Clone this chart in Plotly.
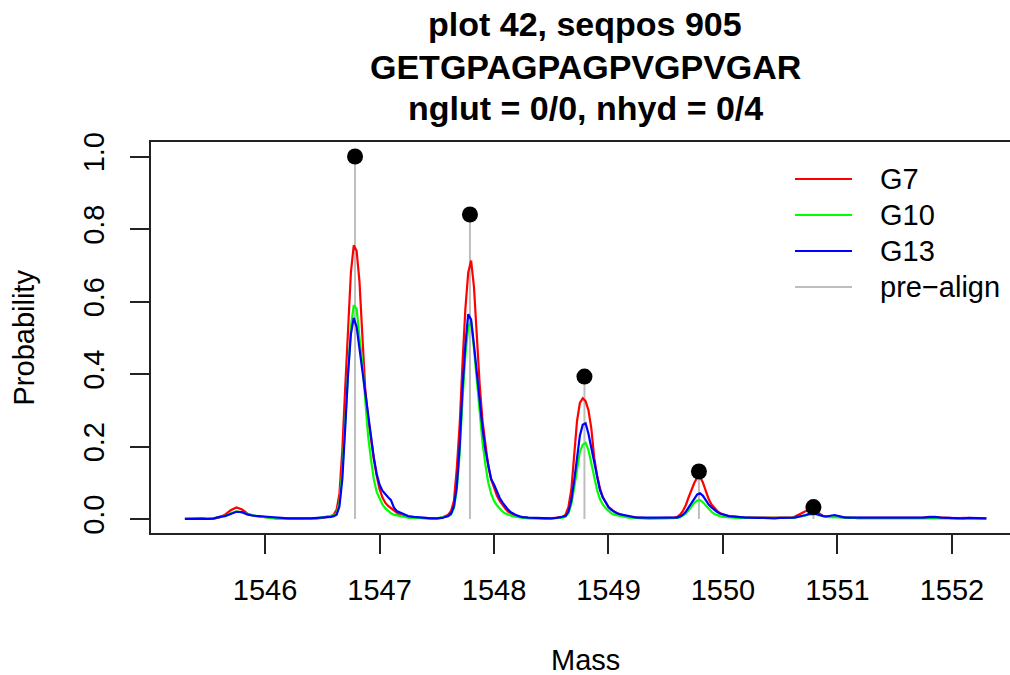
import plotly.graph_objects as go

# ---------------- data ----------------
MASS = [
    1545.30, 1545.35, 1545.40, 1545.45, 1545.50, 1545.55, 1545.60, 1545.65, 1545.70, 1545.75,
    1545.80, 1545.85, 1545.90, 1545.95, 1546.00, 1546.05, 1546.10, 1546.15, 1546.20, 1546.25,
    1546.30, 1546.35, 1546.40, 1546.45, 1546.50, 1546.55,
    1546.575, 1546.600, 1546.625, 1546.650, 1546.675, 1546.700, 1546.725, 1546.750, 1546.775, 1546.800,
    1546.825, 1546.850, 1546.875, 1546.900, 1546.925, 1546.950, 1546.975, 1547.000, 1547.025, 1547.050,
    1547.075, 1547.100, 1547.125, 1547.150, 1547.175, 1547.200, 1547.225, 1547.250,
    1547.30, 1547.35, 1547.40, 1547.45, 1547.50, 1547.55,
    1547.575, 1547.600, 1547.625, 1547.650, 1547.675, 1547.700, 1547.725, 1547.750, 1547.775, 1547.800,
    1547.825, 1547.850, 1547.875, 1547.900, 1547.925, 1547.950, 1547.975, 1548.000, 1548.025, 1548.050,
    1548.075, 1548.100, 1548.125, 1548.150, 1548.175, 1548.200, 1548.225, 1548.250,
    1548.30, 1548.35, 1548.40, 1548.45, 1548.50, 1548.55,
    1548.575, 1548.600, 1548.625, 1548.650, 1548.675, 1548.700, 1548.725, 1548.750, 1548.775, 1548.800,
    1548.825, 1548.850, 1548.875, 1548.900, 1548.925, 1548.950, 1548.975, 1549.000, 1549.025, 1549.050,
    1549.075, 1549.100, 1549.125, 1549.150, 1549.175, 1549.200, 1549.225, 1549.250,
    1549.30, 1549.35, 1549.40, 1549.45, 1549.50, 1549.55,
    1549.575, 1549.600, 1549.625, 1549.650, 1549.675, 1549.700, 1549.725, 1549.750, 1549.775, 1549.800,
    1549.825, 1549.850, 1549.875, 1549.900, 1549.925, 1549.950, 1549.975, 1550.000, 1550.025, 1550.050,
    1550.075, 1550.100, 1550.125, 1550.150, 1550.175, 1550.200, 1550.225, 1550.250,
    1550.30, 1550.35, 1550.40, 1550.45, 1550.50, 1550.55,
    1550.575, 1550.600, 1550.625, 1550.650, 1550.675, 1550.700, 1550.725, 1550.750, 1550.775, 1550.800,
    1550.825, 1550.850, 1550.875, 1550.900, 1550.925, 1550.950, 1550.975, 1551.000, 1551.025, 1551.050,
    1551.075, 1551.100, 1551.125, 1551.150, 1551.175, 1551.200, 1551.225, 1551.250,
    1551.30, 1551.35, 1551.40, 1551.45, 1551.50, 1551.55, 1551.60, 1551.65, 1551.70, 1551.75,
    1551.80, 1551.85, 1551.90, 1551.95, 1552.00, 1552.05, 1552.10, 1552.15, 1552.20, 1552.25,
    1552.30,
]

G7 = [
    0.001, 0.001, 0.000, 0.001, 0.001, 0.002, 0.004, 0.012, 0.024, 0.032,
    0.026, 0.014, 0.009, 0.007, 0.005, 0.003, 0.002, 0.002, 0.001, 0.002,
    0.001, 0.002, 0.001, 0.002, 0.003, 0.006,
    0.008, 0.012, 0.025, 0.070, 0.190, 0.360, 0.540, 0.680, 0.755, 0.740,
    0.655, 0.500, 0.360, 0.280, 0.220, 0.165, 0.120, 0.083, 0.060, 0.045,
    0.036, 0.030, 0.022, 0.016, 0.012, 0.009, 0.007, 0.005,
    0.004, 0.003, 0.002, 0.002, 0.002, 0.004,
    0.008, 0.012, 0.022, 0.050, 0.140, 0.260, 0.430, 0.580, 0.680, 0.713,
    0.640, 0.500, 0.370, 0.270, 0.200, 0.145, 0.110, 0.085, 0.065, 0.050,
    0.038, 0.028, 0.020, 0.015, 0.011, 0.008, 0.006, 0.005,
    0.003, 0.002, 0.002, 0.001, 0.002, 0.003,
    0.004, 0.006, 0.012, 0.033, 0.080, 0.170, 0.270, 0.320, 0.333, 0.325,
    0.300, 0.250, 0.170, 0.120, 0.085, 0.060, 0.045, 0.033, 0.027, 0.020,
    0.016, 0.013, 0.011, 0.008, 0.006, 0.005, 0.004, 0.004,
    0.003, 0.002, 0.002, 0.002, 0.003, 0.003,
    0.004, 0.006, 0.012, 0.022, 0.038, 0.060, 0.082, 0.100, 0.115, 0.117,
    0.100, 0.075, 0.055, 0.040, 0.030, 0.022, 0.016, 0.012, 0.010, 0.008,
    0.007, 0.006, 0.005, 0.005, 0.004, 0.004, 0.004, 0.004,
    0.003, 0.002, 0.002, 0.002, 0.002, 0.003,
    0.003, 0.004, 0.006, 0.010, 0.012, 0.016, 0.022, 0.027, 0.030, 0.028,
    0.020, 0.013, 0.009, 0.007, 0.006, 0.006, 0.007, 0.006, 0.005, 0.004,
    0.004, 0.003, 0.003, 0.003, 0.003, 0.003, 0.003, 0.003,
    0.003, 0.003, 0.002, 0.003, 0.002, 0.003, 0.003, 0.002, 0.003, 0.004,
    0.006, 0.005, 0.004, 0.003, 0.003, 0.002, 0.003, 0.002, 0.002, 0.002,
    0.002,
]

G10 = [
    0.001, 0.001, 0.001, 0.000, 0.001, 0.002, 0.005, 0.009, 0.016, 0.021,
    0.018, 0.013, 0.010, 0.007, 0.004, 0.003, 0.002, 0.001, 0.002, 0.001,
    0.002, 0.001, 0.002, 0.002, 0.004, 0.008,
    0.008, 0.010, 0.015, 0.045, 0.130, 0.270, 0.420, 0.530, 0.590, 0.580,
    0.500, 0.430, 0.330, 0.230, 0.165, 0.110, 0.075, 0.055, 0.040, 0.030,
    0.022, 0.016, 0.012, 0.010, 0.008, 0.006, 0.005, 0.004,
    0.003, 0.002, 0.002, 0.001, 0.002, 0.004,
    0.006, 0.008, 0.012, 0.030, 0.080, 0.180, 0.330, 0.450, 0.530, 0.545,
    0.470, 0.380, 0.290, 0.210, 0.150, 0.100, 0.070, 0.050, 0.038, 0.028,
    0.020, 0.015, 0.011, 0.009, 0.007, 0.005, 0.004, 0.003,
    0.002, 0.002, 0.001, 0.001, 0.002, 0.002,
    0.003, 0.004, 0.007, 0.016, 0.040, 0.085, 0.140, 0.185, 0.205, 0.210,
    0.190, 0.155, 0.115, 0.080, 0.055, 0.040, 0.030, 0.022, 0.016, 0.012,
    0.010, 0.008, 0.006, 0.005, 0.004, 0.004, 0.003, 0.003,
    0.002, 0.002, 0.001, 0.002, 0.002, 0.002,
    0.002, 0.003, 0.005, 0.009, 0.015, 0.024, 0.035, 0.045, 0.051, 0.052,
    0.046, 0.037, 0.028, 0.020, 0.014, 0.010, 0.008, 0.006, 0.005, 0.004,
    0.004, 0.003, 0.003, 0.003, 0.003, 0.003, 0.003, 0.003,
    0.003, 0.002, 0.002, 0.002, 0.002, 0.002,
    0.002, 0.003, 0.004, 0.005, 0.006, 0.008, 0.010, 0.012, 0.013, 0.013,
    0.011, 0.009, 0.007, 0.006, 0.005, 0.005, 0.005, 0.005, 0.004, 0.004,
    0.003, 0.003, 0.003, 0.003, 0.002, 0.002, 0.002, 0.002,
    0.002, 0.002, 0.002, 0.002, 0.003, 0.002, 0.002, 0.002, 0.003, 0.003,
    0.004, 0.004, 0.003, 0.003, 0.002, 0.002, 0.002, 0.002, 0.002, 0.002,
    0.002,
]

G13 = [
    0.000, 0.001, 0.001, 0.001, 0.000, 0.001, 0.006, 0.008, 0.014, 0.020,
    0.019, 0.012, 0.009, 0.008, 0.005, 0.004, 0.003, 0.002, 0.002, 0.002,
    0.001, 0.002, 0.002, 0.003, 0.003, 0.005,
    0.006, 0.008, 0.012, 0.035, 0.110, 0.250, 0.400, 0.510, 0.555, 0.530,
    0.470, 0.410, 0.340, 0.280, 0.220, 0.170, 0.125, 0.095, 0.078, 0.068,
    0.060, 0.052, 0.032, 0.022, 0.018, 0.014, 0.010, 0.008,
    0.006, 0.004, 0.003, 0.002, 0.002, 0.003,
    0.006, 0.008, 0.015, 0.035, 0.090, 0.200, 0.360, 0.480, 0.565, 0.550,
    0.480, 0.400, 0.320, 0.250, 0.190, 0.145, 0.110, 0.095, 0.075, 0.058,
    0.045, 0.034, 0.025, 0.018, 0.013, 0.010, 0.007, 0.005,
    0.004, 0.003, 0.002, 0.002, 0.002, 0.003,
    0.004, 0.005, 0.008, 0.020, 0.050, 0.105, 0.170, 0.230, 0.260, 0.264,
    0.235, 0.195, 0.150, 0.110, 0.080, 0.060, 0.045, 0.033, 0.025, 0.020,
    0.016, 0.013, 0.011, 0.009, 0.007, 0.006, 0.005, 0.004,
    0.004, 0.003, 0.002, 0.003, 0.002, 0.003,
    0.003, 0.004, 0.007, 0.012, 0.020, 0.032, 0.045, 0.058, 0.068, 0.071,
    0.064, 0.052, 0.040, 0.032, 0.025, 0.019, 0.015, 0.012, 0.010, 0.008,
    0.007, 0.006, 0.005, 0.005, 0.004, 0.004, 0.004, 0.003,
    0.003, 0.003, 0.002, 0.002, 0.003, 0.003,
    0.003, 0.003, 0.004, 0.006, 0.007, 0.009, 0.011, 0.014, 0.016, 0.016,
    0.013, 0.010, 0.008, 0.007, 0.008, 0.010, 0.011, 0.009, 0.006, 0.005,
    0.004, 0.004, 0.003, 0.003, 0.003, 0.003, 0.003, 0.003,
    0.003, 0.002, 0.003, 0.002, 0.003, 0.003, 0.002, 0.003, 0.002, 0.004,
    0.005, 0.006, 0.004, 0.003, 0.003, 0.003, 0.002, 0.003, 0.002, 0.003,
    0.002,
]

# pre-align (theoretical) isotope sticks
PRE_MASS = [1546.786, 1547.790, 1548.790, 1549.790, 1550.790]
PRE_PROB = [1.000, 0.840, 0.393, 0.131, 0.033]

SERIES_NAMES = ["G7", "G10", "G13", "pre\u2212align"]
SERIES_COLORS = ["#FF0000", "#00FF00", "#0000FF", "#BEBEBE"]

TITLE_LINES = ["plot 42, seqpos 905", "GETGPAGPAGPVGPVGAR", "nglut = 0/0, nhyd = 0/4"]
X_TICKS = [1546, 1547, 1548, 1549, 1550, 1551, 1552]
Y_TICKS = [0.0, 0.2, 0.4, 0.6, 0.8, 1.0]

FONT = "Liberation Sans, Arial, Helvetica, sans-serif"

# ---------------- figure ----------------
W, H = 1010, 675
ML, MR, MT, MB = 151, 0, 142, 142
PW, PH = W - ML - MR, H - MT - MB


def px_x(px):
    return (px - ML) / PW


def px_y(py):
    return (H - MB - py) / PH


fig = go.Figure()

# grey sticks (pre-align)
stick_x, stick_y = [], []
for m, p in zip(PRE_MASS, PRE_PROB):
    stick_x += [m, m, None]
    stick_y += [0, p, None]
fig.add_trace(go.Scatter(x=stick_x, y=stick_y, mode="lines",
                         line=dict(color=SERIES_COLORS[3], width=2),
                         name=SERIES_NAMES[3], showlegend=False, hoverinfo="skip"))

for name, ys, col in zip(SERIES_NAMES[:3], [G7, G10, G13], SERIES_COLORS[:3]):
    fig.add_trace(go.Scatter(x=MASS, y=ys, mode="lines", name=name,
                             line=dict(color=col, width=2.2), showlegend=False))

fig.add_trace(go.Scatter(x=PRE_MASS, y=PRE_PROB, mode="markers",
                         marker=dict(color="black", size=16), showlegend=False,
                         name="theoretical"))

axis_common = dict(showline=True, linecolor="#222", linewidth=1.5,
                   ticks="outside", ticklen=19, tickwidth=1.5, tickcolor="#222",
                   showgrid=False, zeroline=False,
                   tickfont=dict(family=FONT, size=29, color="#000"))

fig.update_xaxes(range=[1545.004, 1552.507], tickvals=X_TICKS, mirror=True,
                 ticklabelstandoff=11, **axis_common)
fig.update_yaxes(range=[-0.0386, 1.04], tickvals=Y_TICKS, tickformat=".1f",
                 tickangle=-90, ticklabelstandoff=15, **axis_common)

annotations = []
for line, py in zip(TITLE_LINES, [24, 67, 108]):
    annotations.append(dict(text="<b>" + line + "</b>", x=px_x(585), y=px_y(py),
                            xref="paper", yref="paper", xanchor="center", yanchor="middle",
                            showarrow=False, font=dict(family=FONT, size=34, color="#000")))
annotations.append(dict(text="Mass", x=px_x(585), y=px_y(660), xref="paper", yref="paper",
                        xanchor="center", yanchor="middle", showarrow=False,
                        font=dict(family=FONT, size=29, color="#000")))
annotations.append(dict(text="Probability", x=px_x(23), y=px_y(337.5), xref="paper", yref="paper",
                        xanchor="center", yanchor="middle", showarrow=False, textangle=-90,
                        font=dict(family=FONT, size=29, color="#000")))

shapes = []
for name, col, py in zip(SERIES_NAMES, SERIES_COLORS, [179, 215, 251, 287]):
    shapes.append(dict(type="line", xref="paper", yref="paper",
                       x0=px_x(795), x1=px_x(852), y0=px_y(py), y1=px_y(py),
                       line=dict(color=col, width=2)))
    annotations.append(dict(text=name, x=px_x(878), y=px_y(py), xref="paper", yref="paper",
                            xanchor="left", yanchor="middle", showarrow=False,
                            font=dict(family=FONT, size=29, color="#000")))

fig.update_layout(width=W, height=H, margin=dict(l=ML, r=MR, t=MT, b=MB, pad=0),
                  paper_bgcolor="white", plot_bgcolor="white",
                  showlegend=False, annotations=annotations, shapes=shapes,
                  font=dict(family=FONT, color="#000"))

fig.write_html("out.html")
